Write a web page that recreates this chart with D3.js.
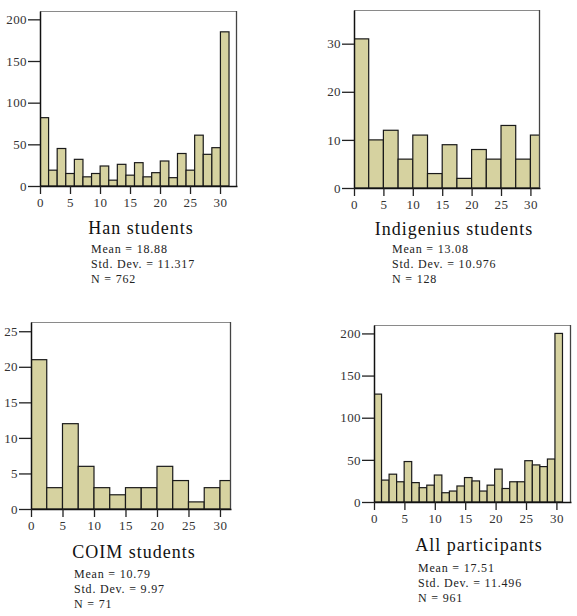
<!DOCTYPE html>
<html>
<head>
<meta charset="utf-8">
<script src="https://cdn.jsdelivr.net/npm/d3@7"></script>
<style>
  body { margin: 0; background: #fff; }
  text { font-family: "Liberation Serif", "Times New Roman", serif; }
</style>
</head>
<body>
<div id="chart"></div>
<script>
// counts per bin
var hanCounts = [82, 19, 45, 15, 32, 11, 15, 24, 7, 26, 13, 28, 11, 16, 30, 10, 39, 19, 61, 38, 46, 185];
var indCounts = [31, 10, 12, 6, 11, 3, 9, 2, 8, 6, 13, 6, 11];
var coimCounts = [21, 3, 12, 6, 3, 2, 3, 3, 6, 4, 1, 3, 4];
var allCounts = [128, 26, 33, 24, 48, 23, 17, 20, 32, 11, 13, 19, 29, 25, 13, 20, 39, 16, 24, 24, 49, 44, 42, 51, 200];

var titles = ["Han students", "Indigenius students", "COIM students", "All participants"];
var statLines = [
    ["Mean = 18.88", "Std. Dev. = 11.317", "N = 762"],
    ["Mean = 13.08", "Std. Dev. = 10.976", "N = 128"],
    ["Mean = 10.79", "Std. Dev. = 9.97", "N = 71"],
    ["Mean = 17.51", "Std. Dev. = 11.496", "N = 961"]
];
var xTicks = [0, 5, 10, 15, 20, 25, 30];
var yTicks = [
    [0, 50, 100, 150, 200],
    [0, 10, 20, 30],
    [0, 5, 10, 15, 20, 25],
    [0, 50, 100, 150, 200]
];

var WIDTH = 577, HEIGHT = 616;
var BAR_FILL = "#d6d2a0";

// plot boxes and axis ranges for each panel
var panels = [
    {counts: hanCounts, bin: 31.5 / 22, box: [40, 11, 237, 186], xMax: 32.83, yMax: 210,
     title: [141, 234], stats: [91, 253]},
    {counts: indCounts, bin: 2.5, box: [354, 10, 540, 188], xMax: 31.63, yMax: 37,
     title: [454, 235], stats: [392, 253]},
    {counts: coimCounts, bin: 2.5, box: [31, 322, 231, 509], xMax: 31.75, yMax: 26.3,
     title: [134, 558], stats: [74, 578]},
    {counts: allCounts, bin: 31 / 25, box: [374, 325, 571, 502], xMax: 32.4, yMax: 210,
     title: [479, 551], stats: [418, 572]}
];

var svg = d3.select("#chart").append("svg")
    .attr("width", WIDTH)
    .attr("height", HEIGHT);

panels.forEach(function(p, i){
    var x0 = p.box[0], y0 = p.box[1], x1 = p.box[2], y1 = p.box[3];

    var x = d3.scaleLinear().domain([0, p.xMax]).range([x0, x1]);
    var y = d3.scaleLinear().domain([0, p.yMax]).range([y1, y0]);

    svg.append("clipPath").attr("id", "clip" + i)
        .append("rect")
        .attr("x", x0).attr("y", y0)
        .attr("width", x1 - x0).attr("height", y1 - y0);

    var g = svg.append("g");

    g.append("g").attr("clip-path", "url(#clip" + i + ")")
        .selectAll("rect")
        .data(p.counts).enter()
        .append("rect")
        .attr("x", function(d, j){ return x(j * p.bin); })
        .attr("width", function(d, j){ return x((j + 1) * p.bin) - x(j * p.bin); })
        .attr("y", function(d){ return y(d); })
        .attr("height", function(d){ return y(0) - y(d); })
        .attr("fill", BAR_FILL)
        .attr("stroke", "#1a1a1a")
        .attr("stroke-width", 1.2);

    // frame: light top, darker right
    g.append("line").attr("x1", x0).attr("x2", x1).attr("y1", y0 + 0.5).attr("y2", y0 + 0.5)
        .attr("stroke", "#8a8a8a").attr("stroke-width", 1);
    g.append("line").attr("x1", x1 - 0.5).attr("x2", x1 - 0.5).attr("y1", y0).attr("y2", y1)
        .attr("stroke", "#444").attr("stroke-width", 1.3);

    var yAxis = d3.axisLeft(y).tickValues(yTicks[i]).tickSize(12).tickPadding(1).tickSizeOuter(0);
    var xAxis = d3.axisBottom(x).tickValues(xTicks).tickSize(8).tickPadding(4).tickSizeOuter(0);

    var ya = g.append("g").attr("transform", "translate(" + x0 + ",0)").call(yAxis);
    var xa = g.append("g").attr("transform", "translate(0," + y1 + ")").call(xAxis);

    [ya, xa].forEach(function(a){
        a.attr("font-family", null);
        a.select(".domain").attr("stroke", "#111").attr("stroke-width", 1.5);
        a.selectAll(".tick line").attr("stroke", "#222").attr("stroke-width", 1.3);
        a.selectAll(".tick text")
            .attr("fill", "#333")
            .style("font-size", "13px")
            .style("letter-spacing", "0.4px")
            .style("font-family", "'Liberation Serif', serif");
    });

    g.append("text")
        .attr("x", p.title[0]).attr("y", p.title[1])
        .attr("text-anchor", "middle")
        .attr("fill", "#111")
        .style("font-size", "18px")
        .style("letter-spacing", "1px")
        .text(titles[i]);

    g.selectAll(".stat")
        .data(statLines[i]).enter()
        .append("text")
        .attr("class", "stat")
        .attr("x", p.stats[0])
        .attr("y", function(d, k){ return p.stats[1] + k * 15; })
        .attr("fill", "#222")
        .style("font-size", "12px")
        .style("letter-spacing", "0.8px")
        .text(function(d){ return d; });
});
</script>
</body>
</html>
